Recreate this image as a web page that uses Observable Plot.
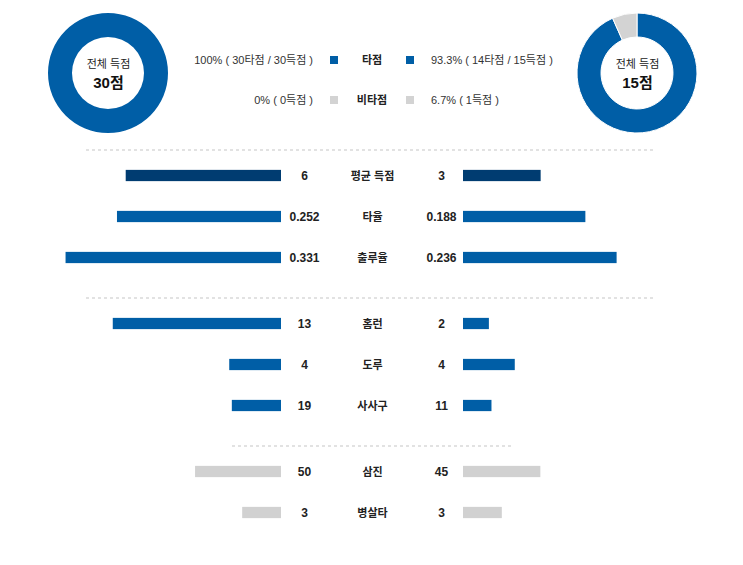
<!DOCTYPE html>
<html><head><meta charset="utf-8">
<script src="https://cdn.jsdelivr.net/npm/d3@7"></script>
<script src="https://cdn.jsdelivr.net/npm/@observablehq/plot@0.6"></script>
<style>
body{margin:0;background:#fff;}
#chart{position:relative;width:743px;height:565px;overflow:hidden;font-family:"Liberation Sans",Arial,"Noto Sans CJK KR",sans-serif;color:#222;}
.slot{position:absolute;left:0;}
.slot svg{display:block;}
.sep{position:absolute;height:2px;background:repeating-linear-gradient(to right,#e2e2e2 0 3px,transparent 3px 6px);}
.lg{position:absolute;font-size:11px;line-height:16px;color:#333;white-space:nowrap;}
.lgc{position:absolute;font-size:11px;line-height:16px;color:#222;font-weight:bold;width:80px;text-align:center;}
.sq{position:absolute;width:8px;height:8px;}
</style></head><body><div id="chart"></div>
<script>
// ---- data ----
const sides = ["A", "B"];
const totalRuns = [30, 15];
const rbiRuns = [30, 14];      // 타점
const nonRbiRuns = [0, 1];     // 비타점
const legendLabels = ["타점", "비타점"];
const statNames = ["평균 득점", "타율", "출루율", "홈런", "도루", "사사구", "삼진", "병살타"];
const valuesA = [6, 0.252, 0.331, 13, 4, 19, 50, 3];
const valuesB = [3, 0.188, 0.236, 2, 4, 11, 45, 3];
const statScaleMax = [8.5, 0.338, 0.338, 17, 17, 85, 128, 17];
const groups = [["평균 득점", "타율", "출루율"], ["홈런", "도루", "사사구"], ["삼진", "병살타"]];

// ---- style ----
const BLUE = "#005ea6", NAVY = "#003c71", GRAY = "#d1d1d1", DGRAY = "#d3d3d3";
const FONT = '"Liberation Sans", Arial, "Noto Sans CJK KR", sans-serif';
const chart = document.getElementById("chart");

function place(node, top) {
  const d = document.createElement("div");
  d.className = "slot"; d.style.top = top + "px";
  d.appendChild(node); chart.appendChild(d);
}

// ---- header: donuts ----
const donutMark = (index, scales, values, dims) => {
  const g = d3.create("svg:g");
  const arc = d3.arc().innerRadius(36).outerRadius(60);
  sides.forEach((s, i) => {
    const pie = d3.pie().sort(null)([rbiRuns[i], nonRbiRuns[i]]);
    g.append("g")
      .attr("transform", `translate(${scales.x(s)},${dims.height / 2})`)
      .selectAll("path").data(pie).join("path")
      .attr("d", arc)
      .attr("fill", (d, j) => j === 0 ? BLUE : DGRAY)
      .attr("stroke", "#fff").attr("stroke-width", (d) => d.value > 0 && d.value < totalRuns[i] ? 1 : 0);
  });
  return g.node();
};

const header = Plot.plot({
  width: 743, height: 146, margin: 0,
  x: {type: "point", domain: sides, range: [108, 637], padding: 0, axis: null},
  style: {fontFamily: FONT, background: "transparent"},
  marks: [
    donutMark,
    Plot.text(sides, {x: d => d, text: () => "전체 득점", dy: -9, fontSize: 11, fill: "#222"}),
    Plot.text(sides, {x: d => d, text: (d, i) => totalRuns[i] + "점", dy: 10, fontSize: 15, fontWeight: "bold", fill: "#111"})
  ]
});
place(header, 0);

// ---- legend ----
const pct = v => (Math.round(v * 1000) / 10) + "%";
const legendLeft = [
  `${pct(rbiRuns[0] / totalRuns[0])} ( ${rbiRuns[0]}타점 / ${totalRuns[0]}득점 )`,
  `${pct(nonRbiRuns[0] / totalRuns[0])} ( ${nonRbiRuns[0]}득점 )`
];
const legendRight = [
  `${pct(rbiRuns[1] / totalRuns[1])} ( ${rbiRuns[1]}타점 / ${totalRuns[1]}득점 )`,
  `${pct(nonRbiRuns[1] / totalRuns[1])} ( ${nonRbiRuns[1]}득점 )`
];
legendLabels.forEach((lab, r) => {
  const cy = r === 0 ? 60 : 100;
  const col = r === 0 ? BLUE : DGRAY;
  const l = document.createElement("div");
  l.className = "lg"; l.style.right = (743 - 313) + "px"; l.style.top = (cy - 8) + "px"; l.textContent = legendLeft[r];
  chart.appendChild(l);
  const rr = document.createElement("div");
  rr.className = "lg"; rr.style.left = "431px"; rr.style.top = (cy - 8) + "px"; rr.textContent = legendRight[r];
  chart.appendChild(rr);
  const c = document.createElement("div");
  c.className = "lgc"; c.style.left = "332px"; c.style.top = (cy - 8) + "px"; c.textContent = lab;
  chart.appendChild(c);
  [330, 406].forEach(x => {
    const s = document.createElement("div");
    s.className = "sq"; s.style.left = x + "px"; s.style.top = (cy - 4) + "px"; s.style.background = col;
    chart.appendChild(s);
  });
});

// ---- separators ----
[[149, 86, 569], [297, 86, 569], [445, 232, 279]].forEach(([t, l, w]) => {
  const d = document.createElement("div");
  d.className = "sep"; d.style.top = t + "px"; d.style.left = l + "px"; d.style.width = w + "px";
  chart.appendChild(d);
});

// ---- bar groups ----
const bw = 41.75, barH = 12, ins = (bw - barH) / 2;
const fillFor = d => d.name === "평균 득점" ? NAVY : groups[2].includes(d.name) ? GRAY : BLUE;

function groupPlot(names, height) {
  const data = names.map(name => {
    const i = statNames.indexOf(name);
    return {name, a: valuesA[i], b: valuesB[i], max: statScaleMax[i]};
  });
  const y0 = 25 - bw / 2;
  return Plot.plot({
    width: 743, height, margin: 0,
    x: {domain: [-1, 1], range: [152, 592], axis: null},
    y: {type: "band", domain: names, range: [y0, y0 + bw * names.length], padding: 0, axis: null},
    color: {type: "identity"},
    style: {fontFamily: FONT, background: "transparent"},
    marks: [
      Plot.barX(data, {y: "name", x1: d => -d.a / d.max, x2: 0, dx: -91, fill: fillFor, insetTop: ins, insetBottom: ins}),
      Plot.barX(data, {y: "name", x1: 0, x2: d => d.b / d.max, dx: 91, fill: fillFor, insetTop: ins, insetBottom: ins}),
      Plot.text(data, {y: "name", x: 0, text: d => String(d.a), dx: -68, fontSize: 12, fontWeight: "bold", fill: "#222"}),
      Plot.text(data, {y: "name", x: 0, text: "name", fontSize: 11, fontWeight: "bold", fill: "#222"}),
      Plot.text(data, {y: "name", x: 0, text: d => String(d.b), dx: 69, fontSize: 12, fontWeight: "bold", fill: "#222"})
    ]
  });
}

place(groupPlot(groups[0], 148), 150);
place(groupPlot(groups[1], 148), 298);
place(groupPlot(groups[2], 119), 446);
</script></body></html>
